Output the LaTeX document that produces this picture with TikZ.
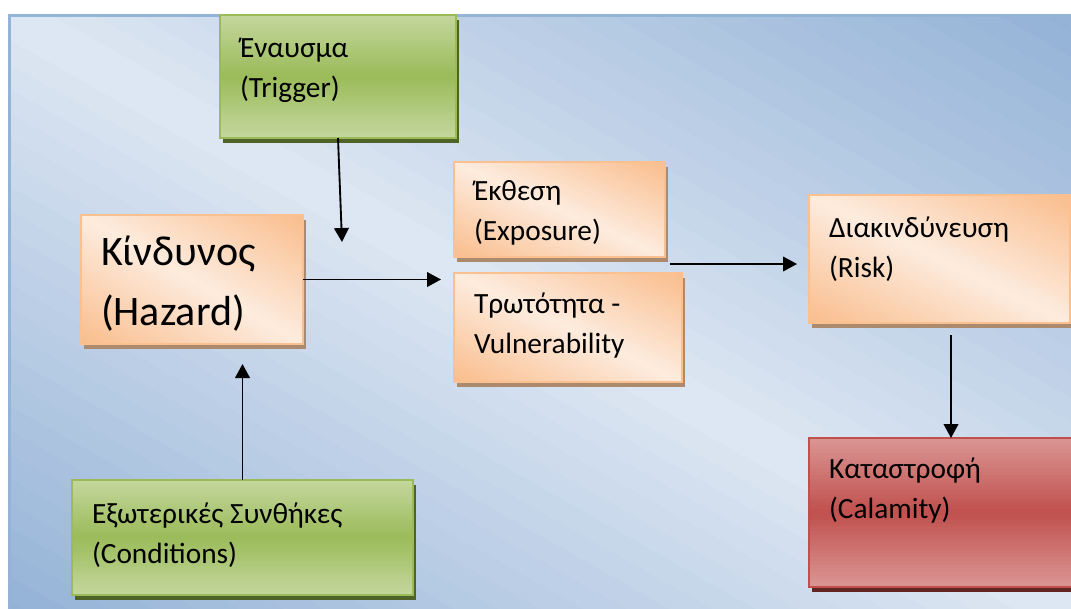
\documentclass[tikz,border=0pt]{standalone}
\usepackage{fontspec}
\setmainfont{Carlito}
\usetikzlibrary{arrows.meta,positioning,shadows,calc}
\definecolor{bgdark}{RGB}{146,177,214}
\definecolor{bglight}{RGB}{222,231,243}
\definecolor{bgline}{RGB}{149,179,215}
\definecolor{orgdark}{RGB}{249,189,140}
\definecolor{orglight}{RGB}{253,236,222}
\definecolor{orgline}{RGB}{250,192,143}
\definecolor{orgshd}{RGB}{172,138,110}
\definecolor{grnlight}{RGB}{196,215,158}
\definecolor{grnmid}{RGB}{155,187,89}
\definecolor{grnshd}{RGB}{79,98,40}
\definecolor{redlight}{RGB}{218,150,148}
\definecolor{redmid}{RGB}{192,80,77}
\definecolor{redshd}{RGB}{99,37,35}
%% diagonal gradient: dark corners (bottom left, top right), light band between
\newcommand{\diagshade}[2]{%
  \coordinate (pp1) at (path picture bounding box.south west);
  \coordinate (pp2) at (path picture bounding box.north east);
  \foreach \k in {0,...,49}{
    \pgfmathsetmacro\sa{\k/25}
    \pgfmathsetmacro\sb{(\k+1.3)/25}
    \pgfmathsetmacro\sc{\sa-1}
    \pgfmathsetmacro\sd{\sb-1}
    \pgfmathsetmacro\mix{100*abs((\k+0.5)/25-1)}
    \fill[#1!\mix!#2] ($(pp1)!\sa!(pp1-|pp2)$) -- ($(pp1)!\sb!(pp1-|pp2)$)
      -- ($(pp1|-pp2)!\sd!(pp2)$) -- ($(pp1|-pp2)!\sc!(pp2)$) -- cycle;
  }}
%% vertical gradient: light edges, darker middle
\newcommand{\vertshade}[2]{%
  \coordinate (pp1) at (path picture bounding box.south west);
  \coordinate (pp2) at (path picture bounding box.north east);
  \foreach \k in {0,...,39}{
    \pgfmathsetmacro\ta{\k/40}
    \pgfmathsetmacro\tb{(\k+1.3)/40}
    \pgfmathsetmacro\mix{100*(1-abs((\k+0.5)/20-1))}
    \fill[#1!\mix!#2] ($(pp1)!\ta!(pp1|-pp2)$) rectangle ($(pp1-|pp2)!\tb!(pp2)$);
  }}
\tikzset{
  %% background panel
  bgpanel/.style={draw=bgline,line width=2.25pt,
    path picture={\diagshade{bgdark}{bglight}}},
  %% orange block (hazard chain)
  oblk/.style={rectangle,draw=orgline,line width=1.5pt,
    path picture={\diagshade{orgdark}{orglight}},
    general shadow={fill=orgshd,shadow xshift=2.25pt,shadow yshift=-3.75pt},
    inner sep=0pt,outer sep=0pt},
  %% green block (trigger / conditions)
  gblk/.style={rectangle,draw=grnmid,line width=1.5pt,
    path picture={\vertshade{grnmid}{grnlight}},
    general shadow={fill=grnshd,shadow xshift=2.25pt,shadow yshift=-3.75pt},
    inner sep=0pt,outer sep=0pt},
  %% red block (calamity)
  rblk/.style={rectangle,draw=redmid,line width=1.5pt,
    path picture={\vertshade{redmid}{redlight}},
    general shadow={fill=redshd,shadow xshift=2.25pt,shadow yshift=-3.75pt},
    inner sep=0pt,outer sep=0pt},
  %% texts
  txt/.style={font=\fontsize{22pt}{30pt}\selectfont,align=left,
    inner sep=0pt,outer sep=0pt,text=black},
  bigtxt/.style={font=\fontsize{31.5pt}{45pt}\selectfont,align=left,
    inner sep=0pt,outer sep=0pt,text=black},
  %% arrows
  arr/.style={-{Triangle[length=10.5pt,width=11pt]},line width=1.4pt,color=black},
}
\begin{document}
\begin{tikzpicture}[x=0.75pt,y=-0.75pt]

  \useasboundingbox (0,0) rectangle (1071,608);
  \clip (0,0) rectangle (1071,608);
  \path[bgpanel] (9.5,15.5) rectangle (1085,625);

  %% blocks
  \node[gblk,minimum width=177pt,minimum height=92.25pt]      (trig)  at (338,76.5)    {};
  \node[oblk,minimum width=166.5pt,minimum height=96.75pt]    (haz)   at (192,279.5)   {};
  \node[oblk,minimum width=158.25pt,minimum height=71.25pt]   (expo)  at (559.5,209.5) {};
  \node[oblk,minimum width=171pt,minimum height=81.75pt]      (vuln)  at (568,327.5)   {};
  \node[oblk,minimum width=195.75pt,minimum height=96pt]      (risk)  at (939.5,259)   {};
  \node[rblk,minimum width=203.25pt,minimum height=111.75pt]  (calam) at (944.5,512.5) {};
  \node[gblk,minimum width=255.75pt,minimum height=86.25pt]   (cond)  at (242.5,537.5) {};

  %% block texts
  \node[txt,below right=10.5pt and 15pt of trig.north west]   (trigt)  {\strut Έναυσμα\\(Trigger)};
  \node[bigtxt,below right=6pt and 15pt of haz.north west]    (hazt)   {\strut Κίνδυνος\\(Hazard)};
  \node[txt,below right=7.5pt and 15pt of expo.north west]    (expot)  {\strut Έκθεση\\(Exposure)};
  \node[txt,below right=9pt and 15pt of vuln.north west]      (vulnt)  {\strut Τρωτότητα -\\Vulnerability};
  \node[txt,below right=10.5pt and 15pt of risk.north west]   (riskt)  {\strut Διακινδύνευση\\(Risk)};
  \node[txt,below right=9pt and 15pt of calam.north west]     (calamt) {\strut Καταστροφή\\(Calamity)};
  \node[txt,below right=11.25pt and 15pt of cond.north west]  (condt)  {\strut Εξωτερικές Συνθήκες\\(Conditions)};

  %% free arrow ends
  \coordinate (trigend) at (342,242);
  \coordinate (erstart) at (670,264);
  \coordinate (rcstart) at (951,335);

  %% arrows
  \draw[arr] (trig.south) -- (trigend);
  \draw[arr,shorten >=9.75pt] (haz.east) -- (haz.east -| vuln.west);
  \draw[arr,shorten >=9pt] (erstart) -- (erstart -| risk.west);
  \draw[arr] (rcstart) -- (rcstart |- calam.north);
  \draw[arr,shorten >=15pt] (cond.north) -- (cond.north |- haz.south);

\end{tikzpicture}
\end{document}
